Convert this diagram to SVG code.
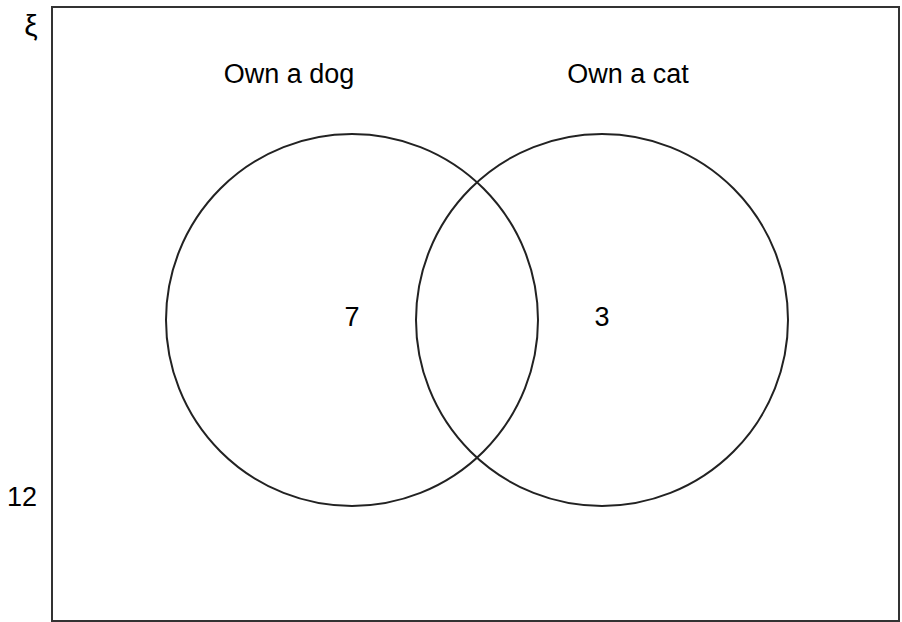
<svg xmlns="http://www.w3.org/2000/svg" width="902" height="622" viewBox="0 0 902 622">
<style>
text{font-family:"Liberation Sans",Arial,sans-serif;font-size:27px;fill:#000}
.c{fill:none;stroke:#222;stroke-width:2}
</style>
<rect width="902" height="622" fill="#fff"/>
<g id="universe">
<rect x="52" y="7" width="847" height="614" fill="none" stroke="#333" stroke-width="2"/>
<text x="31" y="36" text-anchor="middle" style="font-size:30px">ξ</text>
<text x="7" y="506">12</text>
</g>
<g id="dog">
<circle class="c" cx="352" cy="320" r="186"/>
<text x="289" y="83" text-anchor="middle">Own a dog</text>
<text x="352" y="326" text-anchor="middle">7</text>
</g>
<g id="cat">
<circle class="c" cx="602" cy="320" r="186"/>
<text x="628" y="83" text-anchor="middle">Own a cat</text>
<text x="602" y="326" text-anchor="middle">3</text>
</g>
<g id="connectors"/>
</svg>
